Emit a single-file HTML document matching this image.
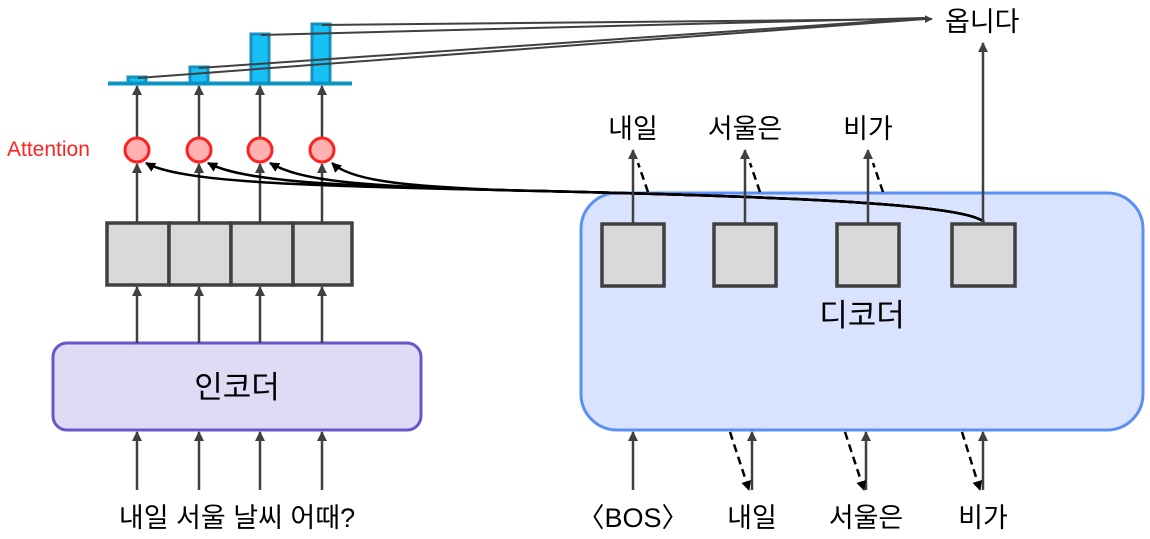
<!DOCTYPE html>
<html><head><meta charset="utf-8"><style>
html,body{margin:0;padding:0;background:#fff;}
svg{display:block;}
text{font-family:"Liberation Sans","Noto Sans CJK KR",sans-serif;}
</style></head><body>
<svg width="1150" height="539" viewBox="0 0 1150 539" xmlns="http://www.w3.org/2000/svg">
<defs>
<marker id="a" viewBox="0 0 10 10" refX="9" refY="5" markerWidth="4" markerHeight="4" orient="auto"><path d="M0,0L10,5L0,10z" fill="#404040"/></marker>
<marker id="b" viewBox="0 0 10 10" refX="9" refY="5" markerWidth="4" markerHeight="4" orient="auto"><path d="M0,0L10,5L0,10z" fill="#000"/></marker>
</defs>
<rect x="581" y="193" width="562" height="237" rx="36" fill="#dae3fd" stroke="#5b8ff5" stroke-width="3"/>
<rect x="53" y="343" width="368" height="87" rx="14" fill="#dedbf5" stroke="#6a55cc" stroke-width="3"/>
<text x="237" y="398" font-size="31" text-anchor="middle">인코더</text>
<text x="862" y="326" font-size="31" text-anchor="middle">디코더</text>
<g fill="#17c0f5" stroke="#1591c0" stroke-width="3">
<rect x="128" y="77" width="18" height="6"/>
<rect x="190" y="67" width="18" height="16"/>
<rect x="251" y="34" width="18" height="49"/>
<rect x="312" y="24" width="18" height="59"/>
</g>
<line x1="108" y1="83.5" x2="352" y2="83.5" stroke="#0a93c4" stroke-width="4"/>
<g stroke="#404040" stroke-width="2" fill="none">
<line x1="138" y1="78" x2="925" y2="19"/>
<line x1="199" y1="68" x2="925" y2="18"/>
<line x1="261" y1="35" x2="925" y2="18"/>
<line x1="322" y1="25" x2="932" y2="19" marker-end="url(#a)"/>
</g>
<text x="945" y="31" font-size="27">옵니다</text>
<text x="7" y="156" font-size="21" fill="#f22">Attention</text>
<g stroke="#404040" stroke-width="2.5" marker-end="url(#a)">
<line x1="137" y1="138" x2="137" y2="86"/>
<line x1="199" y1="138" x2="199" y2="86"/>
<line x1="260" y1="138" x2="260" y2="86"/>
<line x1="322" y1="138" x2="322" y2="86"/>
<line x1="137" y1="222" x2="137" y2="164"/>
<line x1="199" y1="222" x2="199" y2="164"/>
<line x1="260" y1="222" x2="260" y2="164"/>
<line x1="322" y1="222" x2="322" y2="164"/>
<line x1="137" y1="343" x2="137" y2="287"/>
<line x1="199" y1="343" x2="199" y2="287"/>
<line x1="260" y1="343" x2="260" y2="287"/>
<line x1="322" y1="343" x2="322" y2="287"/>
<line x1="137" y1="490" x2="137" y2="432"/>
<line x1="199" y1="490" x2="199" y2="432"/>
<line x1="260" y1="490" x2="260" y2="432"/>
<line x1="322" y1="490" x2="322" y2="432"/>
</g>
<g fill="#ffb0b0" stroke="#f22" stroke-width="3">
<circle cx="137" cy="150" r="12"/><circle cx="199" cy="150" r="12"/><circle cx="260" cy="150" r="12"/><circle cx="322" cy="150" r="12"/>
</g>
<g fill="#d9d9d9" stroke="#404040" stroke-width="3.5">
<rect x="107" y="223" width="62" height="62"/><rect x="169" y="223" width="62" height="62"/><rect x="231" y="223" width="62" height="62"/><rect x="293" y="223" width="59" height="62"/>
</g>
<text x="237" y="527" font-size="27" text-anchor="middle">내일 서울 날씨 어때?</text>
<g stroke="#000" stroke-width="2.5" fill="none" marker-end="url(#b)">
<path d="M984,222 C960,200 700,195 500,190 C300,186 180,182 146,163"/>
<path d="M984,222 C960,200 700,195 500,190 C320,186 240,180 208,163"/>
<path d="M984,222 C960,200 700,195 500,190 C350,186 300,180 270,163"/>
<path d="M984,222 C960,200 700,195 500,190 C400,186 350,180 332,163"/>
</g>
<g fill="#d9d9d9" stroke="#404040" stroke-width="3.5">
<rect x="602" y="224" width="62" height="62"/><rect x="714" y="224" width="62" height="62"/><rect x="837" y="224" width="62" height="62"/><rect x="952" y="224" width="63" height="62"/>
</g>
<g stroke="#404040" stroke-width="2.5" marker-end="url(#a)">
<line x1="633" y1="224" x2="633" y2="150"/>
<line x1="745" y1="224" x2="745" y2="150"/>
<line x1="868" y1="224" x2="868" y2="150"/>
<line x1="983" y1="224" x2="983" y2="43"/>
<line x1="633" y1="490" x2="633" y2="432"/>
<line x1="752" y1="490" x2="752" y2="432"/>
<line x1="866" y1="490" x2="866" y2="432"/>
<line x1="983" y1="490" x2="983" y2="432"/>
</g>
<g stroke="#000" stroke-width="2.5" stroke-dasharray="8,5" fill="none">
<line x1="648" y1="192" x2="638" y2="163"/>
<line x1="760" y1="192" x2="750" y2="163"/>
<line x1="883" y1="192" x2="873" y2="163"/>
<line x1="730" y1="432" x2="749" y2="490" marker-end="url(#b)"/>
<line x1="845" y1="432" x2="864" y2="490" marker-end="url(#b)"/>
<line x1="962" y1="432" x2="980" y2="490" marker-end="url(#b)"/>
</g>
<text x="633" y="138" font-size="27" text-anchor="middle">내일</text>
<text x="745" y="138" font-size="27" text-anchor="middle">서울은</text>
<text x="868" y="138" font-size="27" text-anchor="middle">비가</text>
<text x="633" y="527" font-size="27" text-anchor="middle">〈BOS〉</text>
<text x="752" y="527" font-size="27" text-anchor="middle">내일</text>
<text x="866" y="527" font-size="27" text-anchor="middle">서울은</text>
<text x="983" y="527" font-size="27" text-anchor="middle">비가</text>
</svg>
</body></html>
